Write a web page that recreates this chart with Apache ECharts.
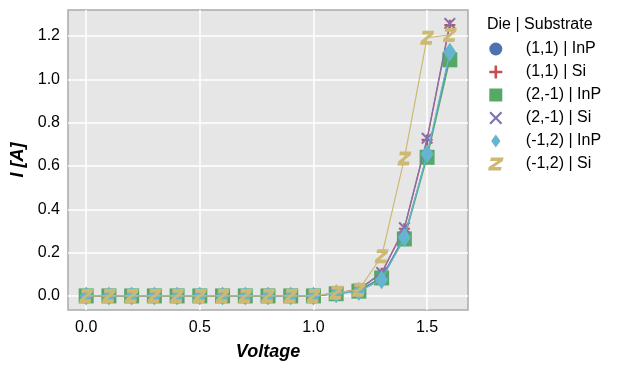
<!DOCTYPE html>
<html>
<head>
<meta charset="utf-8">
<script src="https://cdn.jsdelivr.net/npm/echarts@6/dist/echarts.min.js"></script>
<style>html,body{margin:0;padding:0;background:#fff;}#c{width:625px;height:371px;}</style>
</head>
<body>
<div id="c"></div>
<script>
var voltage = [0.0,0.1,0.2,0.3,0.4,0.5,0.6,0.7,0.8,0.9,1.0,1.1,1.2,1.3,1.4,1.5,1.6];
var die11InP  = [0,0,0,0,0,0,0,0,0,0,0,0.010,0.025,0.085,0.275,0.650,1.110];
var die11Si   = [0,0,0,0,0,0,0,0,0,0,0,0.012,0.030,0.105,0.310,0.720,1.250];
var die2m1InP = [0,0,0,0,0,0,0,0,0,0,0,0.010,0.022,0.083,0.263,0.640,1.090];
var die2m1Si  = [0,0,0,0,0,0,0,0,0,0,0,0.012,0.030,0.108,0.315,0.728,1.258];
var diem12InP = [0,0,0,0,0,0,0,0,0,0,0,0.010,0.020,0.075,0.270,0.655,1.125];
var diem12Si  = [0,0,0,0,0,0,0,0,0,0,0,0.015,0.028,0.183,0.635,1.192,1.205];
var seriesNames = ['(1,1) | InP','(1,1) | Si','(2,-1) | InP','(2,-1) | Si','(-1,2) | InP','(-1,2) | Si'];
var xTicks = [0.0,0.5,1.0,1.5];
var yTicks = [0.0,0.2,0.4,0.6,0.8,1.0,1.2];

var colors = ['#4C72B0','#C44E52','#55A868','#8172B2','#64B5CD','#CCB974'];
var plusPath = 'path://M4,0 L6,0 L6,4 L10,4 L10,6 L6,6 L6,10 L4,10 L4,6 L0,6 L0,4 L4,4 Z';
var xPath = 'path://M1.2,0 L5,3.8 L8.8,0 L10,1.2 L6.2,5 L10,8.8 L8.8,10 L5,6.2 L1.2,10 L0,8.8 L3.8,5 L0,1.2 Z';
var zPath = 'path://M2.2,0 L12,0 L11.4,2.7 L4.6,7.3 L10.5,7.3 L9.9,10 L0,10 L0.6,7.3 L7.4,2.7 L1.6,2.7 Z';
var sqPath = 'path://M0,0 L10,0 L10,10 L0,10 Z';
var diaPath = 'path://M5,0 L10,7 L5,14 L0,7 Z';
var symbols = ['circle', plusPath, 'rect', xPath, 'diamond', zPath];
var legendIcons = ['circle', plusPath, sqPath, xPath, diaPath, zPath];
var sizes = [13, 11, 15, 12, [13,19], 14];
var dataSets = [die11InP, die11Si, die2m1InP, die2m1Si, diem12InP, diem12Si];

function pairs(arr){ return voltage.map(function(v,i){ return [v, arr[i]]; }); }

var series = dataSets.map(function(d, i){
  return {
    name: seriesNames[i], type: 'line', data: pairs(d),
    symbol: symbols[i], symbolSize: sizes[i], symbolKeepAspect: false,
    showAllSymbol: true,
    itemStyle: {color: colors[i], opacity: 1},
    lineStyle: {color: colors[i], width: 1.2},
    emphasis: {disabled: true}, animation: false, z: 2 + i
  };
});

var chart = echarts.init(document.getElementById('c'), null, {renderer: 'canvas'});
chart.setOption({
  animation: false,
  textStyle: {fontFamily: 'Liberation Sans, Arial, sans-serif'},
  title: {
    text: 'Die | Substrate', left: 482, top: 12,
    textStyle: {fontSize: 16, fontWeight: 'normal', color: '#000', fontFamily: 'Liberation Sans, Arial, sans-serif'}
  },
  legend: {
    orient: 'vertical', left: 483, top: 36, itemWidth: 50, itemHeight: 13, itemGap: 7,
    symbolKeepAspect: true,
    data: seriesNames.map(function(n, i){ return {name: n, icon: legendIcons[i]}; }),
    textStyle: {fontSize: 16, color: '#000', fontFamily: 'Liberation Sans, Arial, sans-serif'},
    selectedMode: false
  },
  grid: {left: 68, top: 10, width: 400, height: 300, show: true, backgroundColor: '#E6E6E6', borderColor: '#ABABAB', borderWidth: 1.5},
  xAxis: {
    type: 'value', min: -0.08, max: 1.68,
    name: 'Voltage', nameLocation: 'middle', nameGap: 33,
    nameTextStyle: {fontSize: 18, fontWeight: 'bold', fontStyle: 'italic', color: '#000', fontFamily: 'Liberation Sans, Arial, sans-serif'},
    axisLine: {show: false},
    axisTick: {show: false, customValues: xTicks},
    axisLabel: {customValues: xTicks, fontSize: 16, color: '#000', margin: 10, formatter: function(v){ return v.toFixed(1); }},
    splitLine: {show: true, lineStyle: {color: '#FFFFFF', width: 1.5}}
  },
  yAxis: {
    type: 'value', min: -0.065, max: 1.32,
    name: 'I [A]', nameLocation: 'middle', nameGap: 40, nameRotate: 90,
    nameTextStyle: {fontSize: 18, fontWeight: 'bold', fontStyle: 'italic', color: '#000', fontFamily: 'Liberation Sans, Arial, sans-serif'},
    axisLine: {show: false},
    axisTick: {show: false, customValues: yTicks},
    axisLabel: {customValues: yTicks, fontSize: 16, color: '#000', margin: 8, formatter: function(v){ return v.toFixed(1); }},
    splitLine: {show: true, lineStyle: {color: '#FFFFFF', width: 1.5}}
  },
  series: series
});
</script>
</body>
</html>
